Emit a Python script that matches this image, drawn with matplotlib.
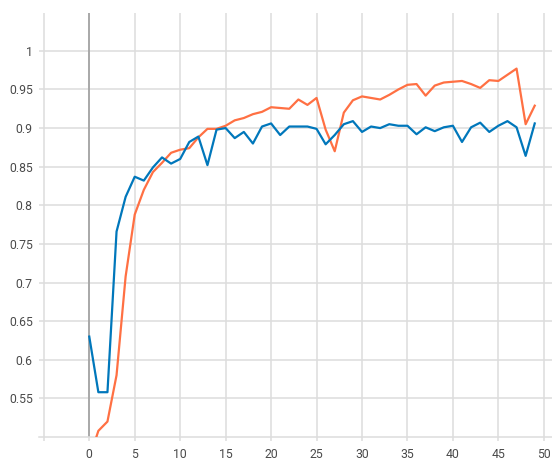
import numpy as np
import matplotlib.pyplot as plt

plt.rcParams['font.family'] = ['Roboto', 'DejaVu Sans']

# training curves
steps = list(range(50))
blue_vals = [0.630, 0.558, 0.558, 0.766, 0.811, 0.837, 0.832, 0.849, 0.862, 0.854,
             0.860, 0.882, 0.889, 0.852, 0.898, 0.900, 0.887, 0.895, 0.880, 0.902,
             0.906, 0.891, 0.902, 0.902, 0.902, 0.899, 0.879, 0.891, 0.905, 0.909,
             0.895, 0.902, 0.900, 0.905, 0.903, 0.903, 0.892, 0.901, 0.896, 0.901,
             0.903, 0.882, 0.901, 0.907, 0.895, 0.903, 0.909, 0.901, 0.864, 0.906]
orange_vals = [0.472, 0.508, 0.520, 0.580, 0.708, 0.788, 0.820, 0.843, 0.855, 0.868,
               0.872, 0.874, 0.888, 0.899, 0.899, 0.903, 0.910, 0.913, 0.918, 0.921,
               0.927, 0.926, 0.925, 0.937, 0.930, 0.939, 0.898, 0.870, 0.920, 0.936,
               0.941, 0.939, 0.937, 0.943, 0.950, 0.956, 0.957, 0.942, 0.955, 0.959,
               0.960, 0.961, 0.957, 0.952, 0.962, 0.961, 0.969, 0.977, 0.905, 0.929]

xticks = list(range(-5, 51, 5))
xlabels = [''] + [str(t) for t in range(0, 51, 5)]
yticks = [0.55, 0.6, 0.65, 0.7, 0.75, 0.8, 0.85, 0.9, 0.95, 1.0]
ylabels = ['0.55', '0.6', '0.65', '0.7', '0.75', '0.8', '0.85', '0.9', '0.95', '1']

W, H = 552, 461
fig = plt.figure(figsize=(W / 100, H / 100), dpi=100)
ax = fig.add_axes([39 / W, (H - 437) / H, (W - 39) / W, (437 - 13) / H])

grid_c = '#dddddd'
ax.set_xlim(-5.53, 50.9)
ax.set_ylim(0.5, 1.049)
ax.set_xticks(xticks)
ax.set_xticklabels(xlabels)
ax.set_yticks(yticks)
ax.set_yticklabels(ylabels)
ax.grid(True, color=grid_c, linewidth=1.1)
ax.set_axisbelow(True)

for s in ['top', 'right', 'left']:
    ax.spines[s].set_visible(False)
ax.spines['bottom'].set_color(grid_c)
ax.spines['bottom'].set_linewidth(1.1)

ax.tick_params(axis='x', length=3, width=1.1, color=grid_c, pad=5,
               labelsize=8.8, labelcolor='#4a4a4a')
ax.tick_params(axis='y', length=0, pad=4.5, labelsize=8.8, labelcolor='#4a4a4a')

ax.axvline(0, color='#999999', linewidth=1.1, zorder=1)

ax.plot(steps, orange_vals, color='#ff7043', linewidth=1.6, zorder=3)
ax.plot(steps, blue_vals, color='#0077bb', linewidth=1.6, zorder=4)

fig.savefig('out.png', dpi=100)
